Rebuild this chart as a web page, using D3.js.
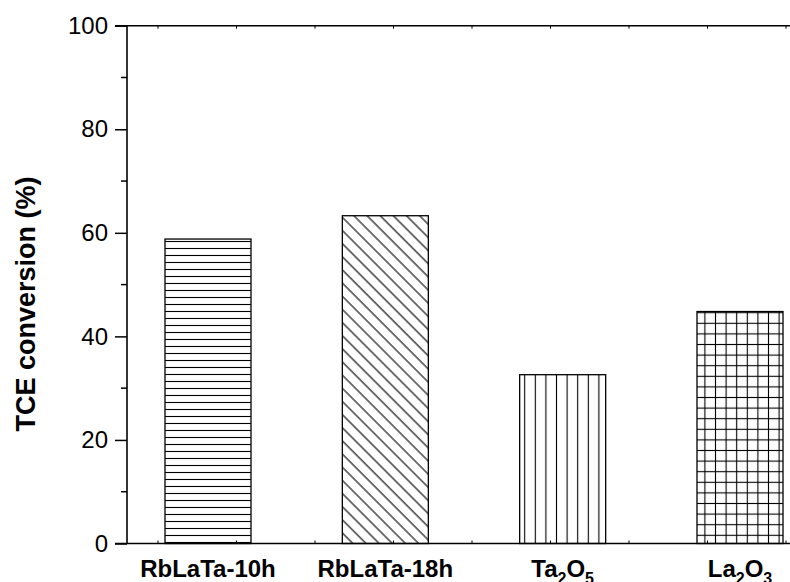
<!DOCTYPE html>
<html>
<head>
<meta charset="utf-8">
<script src="https://cdn.jsdelivr.net/npm/d3@7"></script>
<style>
  body { margin: 0; background: #fff; }
  svg { display: block; font-family: "Liberation Sans", Arial, sans-serif; }
</style>
</head>
<body>
<div id="chart"></div>
<script>
// data
var categories = ['RbLaTa-10h', 'RbLaTa-18h', 'Ta2O5', 'La2O3'];
var conversion = [58.8, 63.3, 32.6, 44.8];
var fills = ['hlines', 'diag', 'vlines', 'grid'];
var yTicks = [0, 20, 40, 60, 80, 100];

var width = 790;
var height = 582;

var svg = d3.select('#chart').append('svg').attr('width', width).attr('height', height);

// hatch patterns like the original
var defs = svg.append('defs');

var p = defs.append('pattern').attr('id', 'hlines').attr('patternUnits', 'userSpaceOnUse')
  .attr('width', 10).attr('height', 7);
p.append('rect').attr('width', 10).attr('height', 7).attr('fill', '#fff');
p.append('line').attr('x1', 0).attr('x2', 10).attr('y1', 3.5).attr('y2', 3.5).attr('stroke', '#000').attr('stroke-width', 1.1);

p = defs.append('pattern').attr('id', 'diag').attr('patternUnits', 'userSpaceOnUse')
  .attr('width', 9.3).attr('height', 9.3).attr('patternTransform', 'rotate(45)');
p.append('rect').attr('width', 9.3).attr('height', 9.3).attr('fill', '#fff');
p.append('line').attr('x1', 0).attr('x2', 9.3).attr('y1', 4.6).attr('y2', 4.6).attr('stroke', '#000').attr('stroke-width', 1.1);

p = defs.append('pattern').attr('id', 'vlines').attr('patternUnits', 'userSpaceOnUse')
  .attr('width', 10.6).attr('height', 10);
p.append('rect').attr('width', 10.6).attr('height', 10).attr('fill', '#fff');
p.append('line').attr('x1', 5.3).attr('x2', 5.3).attr('y1', 0).attr('y2', 10).attr('stroke', '#000').attr('stroke-width', 1.1);

p = defs.append('pattern').attr('id', 'grid').attr('patternUnits', 'userSpaceOnUse')
  .attr('width', 10.6).attr('height', 10.6);
p.append('rect').attr('width', 10.6).attr('height', 10.6).attr('fill', '#fff');
p.append('line').attr('x1', 5.3).attr('x2', 5.3).attr('y1', 0).attr('y2', 10.6).attr('stroke', '#000').attr('stroke-width', 1.1);
p.append('line').attr('x1', 0).attr('x2', 10.6).attr('y1', 5.3).attr('y2', 5.3).attr('stroke', '#000').attr('stroke-width', 1.1);

// scales
var left = 127;
var y = d3.scaleLinear().domain([0, 100]).range([543.5, 25.7]);
var x = d3.scalePoint().domain(categories).range([208, 740]);
var barW = 86;

// bars
svg.selectAll('rect.bar').data(categories).enter().append('rect')
  .attr('class', 'bar')
  .attr('x', function(d) { return x(d) - barW / 2; })
  .attr('y', function(d, i) { return y(conversion[i]); })
  .attr('width', barW)
  .attr('height', function(d, i) { return y(0) - y(conversion[i]); })
  .attr('fill', function(d, i) { return 'url(#' + fills[i] + ')'; })
  .attr('stroke', '#000')
  .attr('stroke-width', 1.3);

// left axis, major and minor ticks outward
var yAxis = d3.axisLeft(y).tickValues(yTicks).tickSize(12).tickPadding(7).tickFormat(d3.format('d'));
var gy = svg.append('g').attr('transform', 'translate(' + left + ',0)').call(yAxis);
gy.select('.domain').remove();
gy.selectAll('.tick line').attr('stroke-width', 1.5);
gy.selectAll('.tick text').style('font-size', '24px').attr('fill', '#000');

svg.append('g').selectAll('line').data([10, 30, 50, 70, 90]).enter().append('line')
  .attr('x1', left - 6).attr('x2', left)
  .attr('y1', function(d) { return y(d); }).attr('y2', function(d) { return y(d); })
  .attr('stroke', '#000').attr('stroke-width', 1.5);

// frame lines
svg.append('line').attr('x1', left).attr('x2', left).attr('y1', y(100)).attr('y2', y(0))
  .attr('stroke', '#000').attr('stroke-width', 1.6);
svg.append('line').attr('x1', left - 12).attr('x2', width + 10).attr('y1', y(100)).attr('y2', y(100))
  .attr('stroke', '#000').attr('stroke-width', 1.6);
svg.append('line').attr('x1', left - 12).attr('x2', width + 10).attr('y1', y(0)).attr('y2', y(0))
  .attr('stroke', '#000').attr('stroke-width', 1.6);

// small inside ticks on top and bottom
var xt = d3.scaleLinear().domain([0, 1]).range([158, 236.5]);
var tickIdx = d3.range(0, 9);
svg.append('g').selectAll('line').data(tickIdx).enter().append('line')
  .attr('x1', function(d) { return xt(d); }).attr('x2', function(d) { return xt(d); })
  .attr('y1', y(0)).attr('y2', y(0) - 3)
  .attr('stroke', '#000').attr('stroke-width', 1);
svg.append('g').selectAll('line').data(tickIdx).enter().append('line')
  .attr('x1', function(d) { return xt(d); }).attr('x2', function(d) { return xt(d); })
  .attr('y1', y(100)).attr('y2', y(100) + 3)
  .attr('stroke', '#000').attr('stroke-width', 1);

// category labels, digits after element letters set as subscripts
var labels = svg.append('g').selectAll('text').data(categories).enter().append('text')
  .attr('x', function(d) { return x(d); })
  .attr('y', 577)
  .attr('text-anchor', 'middle')
  .style('font-size', '24px')
  .style('font-weight', 'bold');

labels.each(function(d) {
  var t = d3.select(this);
  if (d.indexOf('RbLaTa') === 0) { t.text(d); return; }
  var parts = d.match(/[A-Za-z]+|\d+/g);
  parts.forEach(function(s, k) {
    var sp = t.append('tspan').text(s);
    if (/\d/.test(s)) sp.attr('dy', 7).style('font-size', '16px');
    else if (k > 0) sp.attr('dy', -7);
  });
});

// y title
svg.append('text')
  .attr('transform', 'translate(35,304) rotate(-90)')
  .attr('text-anchor', 'middle')
  .style('font-size', '27px')
  .style('font-weight', 'bold')
  .text('TCE conversion (%)');
</script>
</body>
</html>
